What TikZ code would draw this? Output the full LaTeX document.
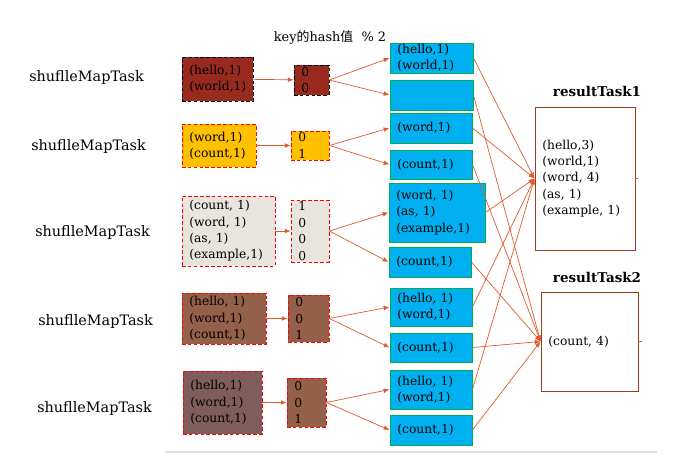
\documentclass[tikz,border=0pt]{standalone}
\usepackage{fontspec}
\setmainfont{DejaVu Serif}
\newfontfamily\cjk{Noto Sans CJK SC}
\usepackage{tikz}
\usetikzlibrary{arrows.meta}
\definecolor{figred}{RGB}{152,43,30}
\definecolor{figgold}{RGB}{255,192,0}
\definecolor{figgrey}{RGB}{232,228,222}
\definecolor{figbrown}{RGB}{148,96,74}
\definecolor{figmauve}{RGB}{128,92,92}
\definecolor{figblue}{RGB}{0,176,240}
\definecolor{figgreen}{RGB}{0,176,80}
\definecolor{figwire}{RGB}{222,90,44}
\definecolor{figrust}{RGB}{160,60,30}
\tikzset{
  txt/.style  ={font=\fontsize{10.5}{14}\selectfont, align=left, inner xsep=0.22cm, inner ysep=0pt},
  src/.style  ={txt, draw=red, densely dashed, line width=0.6pt},
  srck/.style ={txt, draw=black, densely dashed, line width=0.6pt},
  blk/.style  ={txt, fill=figblue, draw=figgreen, line width=0.8pt},
  res/.style  ={txt, fill=white, draw=figrust, line width=0.8pt},
  lab/.style  ={font=\fontsize{12.3}{14}\selectfont, inner sep=1pt},
  labs/.style ={font=\fontsize{11}{13}\selectfont, inner sep=1pt},
  labb/.style ={font=\fontsize{11.5}{13}\selectfont\bfseries, inner sep=1pt},
  wire/.style ={draw=figwire, line width=0.6pt},
  ptr/.style  ={wire, -{Latex[length=5pt,width=4pt]}},
}
\begin{document}
\begin{tikzpicture}[x=0.03cm,y=-0.03cm]
  \useasboundingbox (0,0) rectangle (686,457);
  % page edge
  \draw[draw=black!12,line width=1.6pt] (165,452) -- (657,452);
  \node[labs] (head) at (330,37) {key{\cjk 的}hash{\cjk 值}\ \ \%\ 2};
  % map side labels
  \node[lab] (m1) at (86.5,78) {shuflleMapTask};
  \node[lab] (m2) at (88.5,147) {shuflleMapTask};
  \node[lab] (m3) at (92.5,233) {shuflleMapTask};
  \node[lab] (m4) at (95.5,322) {shuflleMapTask};
  \node[lab] (m5) at (94.5,409) {shuflleMapTask};
  % input records
  \node[srck,fill=figred,text width=1.69cm,minimum height=1.32cm] (s1) at (217.5,79) {(hello,1)\\(world,1)};
  \node[src,fill=figgold,text width=1.78cm,minimum height=1.29cm] (s2) at (219,145.5) {(word,1)\\(count,1)};
  \node[src,fill=figgrey,text width=2.35cm,minimum height=2.1cm] (s3) at (228.5,231) {(count, 1)\\(word, 1)\\(as, 1)\\(example,1)};
  \node[src,fill=figbrown,text width=2.08cm,minimum height=1.53cm] (s4) at (224,318.5) {(hello, 1)\\(word,1)\\(count,1)};
  \node[src,fill=figmauve,text width=1.93cm,minimum height=1.89cm] (s5) at (222.5,402.5) {(hello,1)\\(word,1)\\(count,1)};
  % hash values
  \node[srck,fill=figred,text width=0.61cm,minimum height=0.9cm] (h1) at (311.5,80) {0\\0};
  \node[src,fill=figgold,text width=0.70cm,minimum height=0.87cm] (h2) at (310,145.5) {0\\1};
  \node[src,fill=figgrey,text width=0.70cm,minimum height=1.86cm] (h3) at (310,231) {1\\0\\0\\0};
  \node[src,fill=figbrown,text width=0.79cm,minimum height=1.41cm] (h4) at (308.5,318.5) {0\\0\\1};
  \node[src,fill=figbrown,text width=0.73cm,minimum height=1.47cm] (h5) at (306.5,402.5) {0\\0\\1};
  % buckets
  \node[blk,text width=2.05cm,minimum height=0.9cm] (b1) at (431.5,58) {(hello,1)\\(world,1)};
  \node[blk,text width=2.05cm,minimum height=0.9cm] (b2) at (431.5,95) {};
  \node[blk,text width=2.02cm,minimum height=0.9cm] (b3) at (431,128) {(word,1)};
  \node[blk,text width=2.02cm,minimum height=0.87cm] (b4) at (431,164.5) {(count,1)};
  \node[blk,text width=2.44cm,minimum height=1.77cm] (b5) at (437,212.5) {(word, 1)\\(as, 1)\\(example,1)};
  \node[blk,text width=2.02cm,minimum height=0.9cm] (b6) at (430,262) {(count,1)};
  \node[blk,text width=2.02cm,minimum height=1.14cm] (b7) at (431,307) {(hello, 1)\\(word,1)};
  \node[blk,text width=2.02cm,minimum height=0.87cm] (b8) at (431,347.5) {(count,1)};
  \node[blk,text width=2.02cm,minimum height=1.17cm] (b9) at (431,389.5) {(hello, 1)\\(word,1)};
  \node[blk,text width=2.02cm,minimum height=0.9cm] (b10) at (431,430) {(count,1)};
  % reducers
  \node[labb] (t1) at (597,91) {resultTask1};
  \node[res,text width=2.56cm,minimum height=4.29cm] (rt1) at (585,178.5) {(hello,3)\\(world,1)\\(word, 4)\\(as, 1)\\(example, 1)};
  \node[labb] (t2) at (597,277) {resultTask2};
  \node[res,text width=2.47cm,minimum height=2.97cm] (rt2) at (589.5,341.5) {(count, 4)};
  \draw[wire] (rt1.east) -- ++(3,0);
  \draw[wire] (rt2.east) -- ++(4,0);
  % map -> hash
  \draw[ptr] (s1) -- (h1);
  \draw[ptr] (s2) -- (h2);
  \draw[ptr] (s3) -- (h3);
  \draw[ptr] (s4) -- (h4);
  \draw[ptr] (s5) -- (h5);
  % hash -> buckets
  \draw[ptr] (h1.east) -- (b1.west);
  \draw[ptr] (h1.east) -- (b2.west);
  \draw[ptr] (h2.east) -- (b3.west);
  \draw[ptr] (h2.east) -- (b4.west);
  \draw[ptr] (h3.east) -- (b5.west);
  \draw[ptr] (h3.east) -- (b6.west);
  \draw[ptr] (h4.east) -- (b7.west);
  \draw[ptr] (h4.east) -- (b8.west);
  \draw[ptr] (h5.east) -- (b9.west);
  \draw[ptr] (h5.east) -- (b10.west);
  % buckets -> reducers
  \draw[ptr] (b1.east) -- (rt1.west);
  \draw[ptr] (b3.east) -- (rt1.west);
  \draw[ptr] (b5.east) -- (rt1.west);
  \draw[ptr] (b7.east) -- (rt1.west);
  \draw[ptr] (b9.east) -- (rt1.west);
  \draw[ptr] (b2.east) -- (rt2.west);
  \draw[ptr] (b4.east) -- (rt2.west);
  \draw[ptr] (b6.east) -- (rt2.west);
  \draw[ptr] (b8.east) -- (rt2.west);
  \draw[ptr] (b10.east) -- (rt2.west);
\end{tikzpicture}
\end{document}
